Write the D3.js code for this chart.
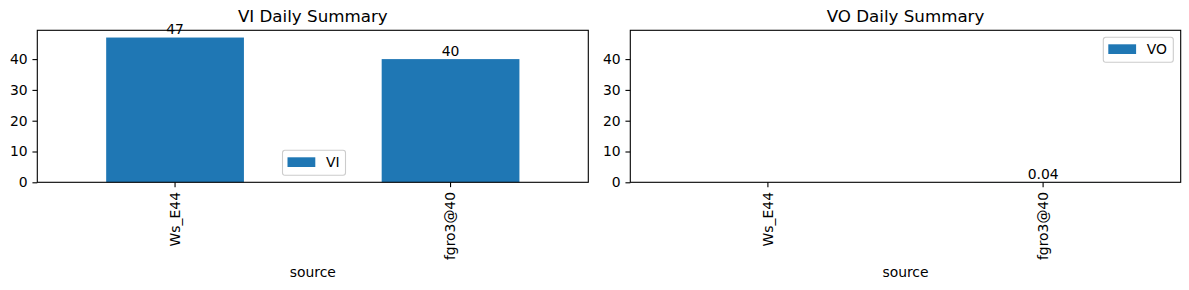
<!DOCTYPE html>
<html>
<head>
<meta charset="utf-8">
<script src="https://cdn.jsdelivr.net/npm/d3@7"></script>
<style>
  html, body { margin: 0; padding: 0; background: #fff; }
  svg { display: block; }
  text { font-family: "DejaVu Sans", sans-serif; }
</style>
</head>
<body>
<svg id="chart" width="1189" height="290"></svg>
<script>
// ---- data ----
const categories = ["Ws_E44", "fgro3@40"];
const viValues = [47, 40];
const voValues = [null, 0.04];
const viLabels = ["47", "40"];
const voLabels = [null, "0.04"];
const yTicks = [0, 10, 20, 30, 40];
const yMax = 49.35;
const titles = ["VI Daily Summary", "VO Daily Summary"];
const seriesNames = ["VI", "VO"];
const xLabel = "source";

const color = "#1f77b4";
const svg = d3.select("#chart");
const tickLen = 4.86, tickPad = 4.86;
const fs = 13.9;

function panel(cfg) {
  const { left, right, top, bottom, values, labels, title, name, legend } = cfg;
  const g = svg.append("g");
  const x = d3.scaleBand().domain(categories).range([left, right]).paddingInner(0.5).paddingOuter(0.25);
  const y = d3.scaleLinear().domain([0, yMax]).range([bottom, top]);

  // bars
  const data = categories.map((c, i) => ({ c, v: values[i], l: labels[i] }));
  g.selectAll("rect.bar").data(data.filter(d => d.v != null)).enter().append("rect")
    .attr("class", "bar")
    .attr("x", d => x(d.c))
    .attr("width", x.bandwidth())
    .attr("y", d => y(d.v))
    .attr("height", d => y(0) - y(d.v))
    .attr("fill", color);

  // bar labels
  g.selectAll("text.blab").data(data.filter(d => d.l != null)).enter().append("text")
    .attr("class", "blab")
    .attr("x", d => x(d.c) + x.bandwidth() / 2)
    .attr("y", d => y(d.v) - 3.3)
    .attr("text-anchor", "middle")
    .attr("font-size", fs)
    .attr("fill", "#000")
    .text(d => d.l);

  // y axis
  const ya = g.append("g").attr("transform", `translate(${left},0)`)
    .call(d3.axisLeft(y).tickValues(yTicks).tickFormat(d3.format("d")).tickSize(tickLen).tickPadding(tickPad).tickSizeOuter(0));
  ya.select(".domain").remove();
  ya.selectAll("line").attr("stroke", "#000").attr("stroke-width", 1.1);
  ya.selectAll("text").attr("font-size", fs).attr("fill", "#000").attr("font-family", "DejaVu Sans");

  // x axis
  const xa = g.append("g").attr("transform", `translate(0,${bottom})`)
    .call(d3.axisBottom(x).tickSize(tickLen).tickSizeOuter(0));
  xa.select(".domain").remove();
  xa.selectAll("line").attr("stroke", "#000").attr("stroke-width", 1.1);
  xa.selectAll("text")
    .attr("font-size", fs).attr("fill", "#000").attr("font-family", "DejaVu Sans")
    .attr("transform", "rotate(-90)")
    .attr("text-anchor", "end")
    .attr("x", -(tickLen + tickPad))
    .attr("y", 0)
    .attr("dy", "0.35em");

  // spines
  g.append("rect").attr("x", left).attr("y", top).attr("width", right - left).attr("height", bottom - top)
    .attr("fill", "none").attr("stroke", "#000").attr("stroke-width", 1.1);

  // title
  g.append("text").attr("x", (left + right) / 2).attr("y", 22)
    .attr("text-anchor", "middle").attr("font-size", 16.7).attr("fill", "#000").text(title);

  // x label
  g.append("text").attr("x", (left + right) / 2).attr("y", 277)
    .attr("text-anchor", "middle").attr("font-size", fs).attr("fill", "#000").text(xLabel);

  // legend
  const lg = g.append("g").attr("transform", `translate(${legend.x},${legend.y})`);
  lg.append("rect").attr("x", 0).attr("y", 0).attr("width", legend.w).attr("height", 25)
    .attr("rx", 2.5).attr("fill", "#fff").attr("fill-opacity", 0.8)
    .attr("stroke", "#cccccc").attr("stroke-width", 1.1);
  lg.append("rect").attr("x", 5).attr("y", 7).attr("width", 27.8).attr("height", 9.7).attr("fill", color);
  lg.append("text").attr("x", 43.5).attr("y", 16.8).attr("font-size", fs).attr("fill", "#000").text(name);
}

panel({ left: 37.3, right: 588.3, top: 30.3, bottom: 182.3, values: viValues, labels: viLabels,
  title: titles[0], name: seriesNames[0], legend: { x: 282.5, y: 150.3, w: 63 } });
panel({ left: 630.3, right: 1180.7, top: 30.3, bottom: 182.3, values: voValues, labels: voLabels,
  title: titles[1], name: seriesNames[1], legend: { x: 1103.3, y: 37.3, w: 70 } });
</script>
</body>
</html>
